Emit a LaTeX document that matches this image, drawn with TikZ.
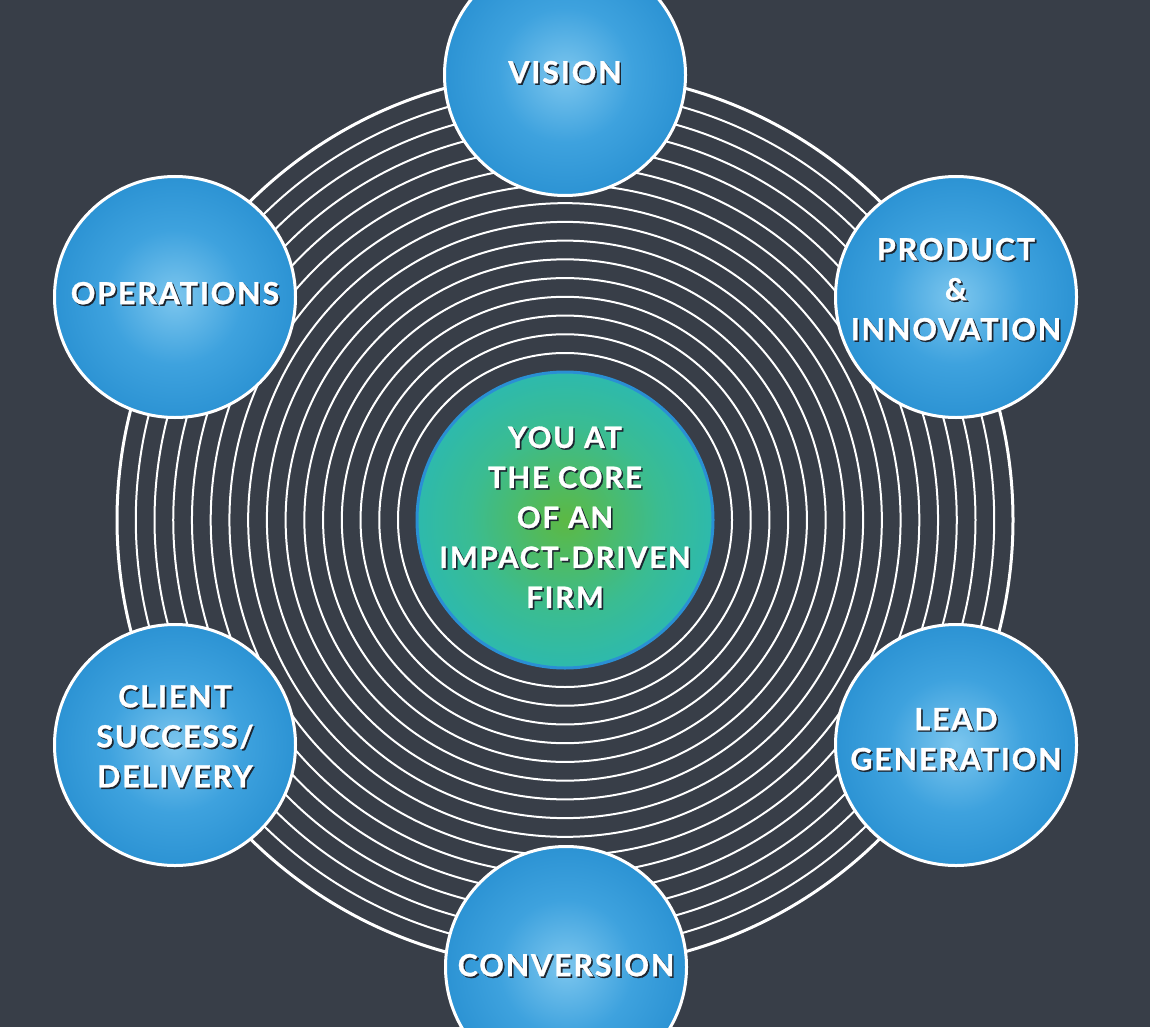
\documentclass[tikz,border=0pt]{standalone}
\usepackage{fontspec}
\setmainfont{Lato}[LetterSpace=6, BoldFeatures={FakeBold=0.9}]
\definecolor{bgc}{HTML}{383E48}
\definecolor{satin}{HTML}{7CC6EE}
\definecolor{satmid}{HTML}{3EA2DE}
\definecolor{satout}{HTML}{1F88CC}
\definecolor{corein}{HTML}{5CB944}
\definecolor{coremid}{HTML}{3ABC92}
\definecolor{coreout}{HTML}{22B8C4}
\definecolor{coreedge}{HTML}{2A8FD4}
\definecolor{shadc}{HTML}{1C2530}
\pgfdeclareradialshading{satshade}{\pgfpoint{0bp}{0bp}}{color(0bp)=(satin); color(14bp)=(satmid); color(33bp)=(satout); color(50bp)=(satout)}
\pgfdeclareradialshading{coreshade}{\pgfpoint{0bp}{0bp}}{color(0bp)=(corein); color(16bp)=(coremid); color(33bp)=(coreout); color(50bp)=(coreout)}
\newcommand\shtx[1]{\leavevmode\rlap{\kern1.6pt\raisebox{-1.6pt}{\color{shadc}#1}}#1}
\tikzset{
  ring/.style={draw=white, line width=2pt},
  outerring/.style={draw=white, line width=3pt},
  sat/.style={circle, draw=white, line width=3pt, minimum size=241pt, inner sep=0pt, shade, shading=satshade},
  core/.style={circle, draw=coreedge, line width=3pt, minimum size=296pt, inner sep=0pt, shade, shading=coreshade},
  lbl/.style={text=white, align=center, inner sep=0pt, font=\bfseries\fontsize{30.5}{40}\selectfont},
  corelbl/.style={text=white, align=center, inner sep=0pt, font=\bfseries\fontsize{29.5}{40}\selectfont}
}
\begin{document}
\begin{tikzpicture}[x=1pt,y=-1pt]
\fill[bgc] (0,0) rectangle (1150,1027);
\useasboundingbox (0,0) rectangle (1150,1027);
\coordinate (c) at (565,520);
\foreach \i in {0,...,14} {
  \draw[ring] (c) circle[radius={(167+\i*18.73)*1pt}];
}
\draw[outerring] (c) circle[radius=448pt];
\node[core] (core) at (c) {};
\node[sat] (vision) at (565,75) {};
\node[sat] (product) at (956,297) {};
\node[sat] (ops) at (175,297) {};
\node[sat] (client) at (175,745) {};
\node[sat] (lead) at (956,745) {};
\node[sat] (conv) at (566,967) {};
\node[corelbl] (coret) at ([yshift=2pt]core) {\shtx{YOU AT}\\\shtx{THE CORE}\\\shtx{OF AN}\\\shtx{IMPACT-DRIVEN}\\\shtx{FIRM}};
\node[lbl] (visiont) at ([yshift=2pt]vision) {\shtx{VISION}};
\node[lbl] (productt) at ([yshift=7pt]product) {\shtx{PRODUCT}\\\shtx{\&}\\\shtx{INNOVATION}};
\node[lbl] (opst) at ([yshift=3pt]ops) {\shtx{OPERATIONS}};
\node[lbl] (clientt) at ([yshift=8pt]client) {\shtx{CLIENT}\\\shtx{SUCCESS/}\\\shtx{DELIVERY}};
\node[lbl] (leadt) at ([yshift=5pt]lead) {\shtx{LEAD}\\\shtx{GENERATION}};
\node[lbl] (convt) at ([yshift=1pt]conv) {\shtx{CONVERSION}};
\end{tikzpicture}
\end{document}
